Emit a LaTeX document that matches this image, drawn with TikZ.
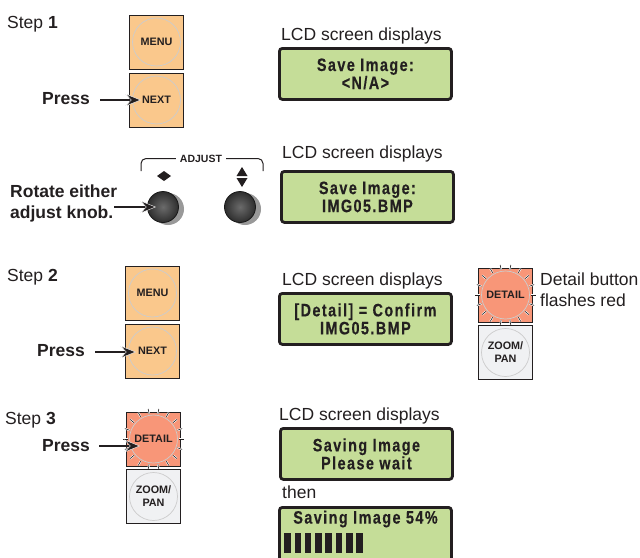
\documentclass[tikz,border=0pt]{standalone}
\usepackage{fontspec}
\setmainfont{Liberation Sans}
\newfontfamily\lcdfont[LetterSpace=8,FakeStretch=0.8,FakeBold=0.3]{Liberation Sans Bold}
\usetikzlibrary{arrows.meta,calc,positioning}
\definecolor{btnorange}{RGB}{250,200,140}
\definecolor{btnred}{RGB}{248,150,120}
\definecolor{btngray}{RGB}{240,241,243}
\definecolor{lcdgreen}{RGB}{197,221,152}
\definecolor{inkdark}{RGB}{35,31,32}
\begin{document}
\begin{tikzpicture}[x=1pt,y=-1pt]
% define styles
\tikzset{plain/.style={font=\fontsize{17.5}{20}\selectfont,text=inkdark,inner sep=0,anchor=base west},
         heavy/.style={font=\fontsize{17.5}{21}\selectfont\bfseries,text=inkdark,inner sep=0,align=left},
         lcdtitle/.style={plain,anchor=base west},
         lcdbox/.style={rectangle,rounded corners=3pt,draw=inkdark,line width=2.8pt,fill=lcdgreen,
                        anchor=north west,inner sep=0,minimum width=172pt,minimum height=51pt,
                        font=\fontsize{18}{18}\selectfont\lcdfont,text=inkdark,align=center},
         btnbox/.style={rectangle,draw=inkdark,line width=1pt,inner sep=0,minimum size=54pt},
         btnface/.style={circle,draw=black!20,line width=.7pt,inner sep=0,minimum size=48pt,align=center,
                         font=\fontsize{10.8}{13}\selectfont\bfseries,text=inkdark},
         pointer/.style={-{Stealth[length=16pt,width=13pt,inset=6pt,color=white,fill=inkdark,line width=.4pt]},
                         line width=2pt,draw=inkdark},
         bar/.style={fill=inkdark,draw=none,minimum width=6.6pt,minimum height=20pt,inner sep=0},
         ray/.style={draw=inkdark,line width=.6pt,preaction={draw=white,line width=1.8pt}},
         bracket/.style={inkdark,line width=1pt,rounded corners=5pt}
}
\useasboundingbox (0,0) rectangle (640,557);

% orange buttons
\foreach \name/\xpos/\ypos/\txt in {menua/156.5/42/MENU, nexta/156.5/100/NEXT, menub/152.5/293/MENU, nextb/152.5/351/NEXT}{
    \node[btnbox,fill=btnorange] (\name) at (\xpos,\ypos) {};
    \node[btnface,fill=btnorange] (\name-face) at (\name) {\txt};
}

% detail buttons and their flashes
\foreach \name/\xpos/\ypos in {detaila/505.5/295, detailb/153.5/439}{
    \node[btnbox,fill=btnred] (\name) at (\xpos,\ypos) {};
    \foreach \angle in {0,20,...,340}
        \draw[ray] ($(\name)+(\angle:25.5)$) -- ($(\name)+(\angle:30.5)$);
    \node[btnface,fill=btnred] (\name-face) at (\name) {DETAIL};
}
\foreach \name/\xpos/\ypos in {zooma/505.5/352.5, zoomb/153.5/496.5}{
    \node[btnbox,fill=btngray] (\name) at (\xpos,\ypos) {};
    \node[btnface,fill=btngray] (\name-face) at (\name) {ZOOM/\\PAN};
}

% knobs
\foreach \name/\xpos in {knoba/163, knobb/240}{
    \fill[black!40] (\xpos+5,209) circle (16);
    \node[circle,draw=black!90,line width=.8pt,inner sep=0,minimum size=31pt,
          inner color=black!58,outer color=black!82] (\name) at (\xpos,207) {};
}
\node[inner sep=0,font=\fontsize{10.5}{12}\selectfont\bfseries,text=inkdark] (adjust) at (201,158.5) {ADJUST};
\draw[bracket] (adjust.west) ++(-4,0) -| (141,171);
\draw[bracket] (adjust.east) ++(4,0) -| (263,171);
\fill[inkdark] (157,176) -- (164,171) -- (171,176) -- (164,181) -- cycle;
\fill[inkdark] (236.5,176) -- (242,167) -- (247.5,176) -- cycle;
\fill[inkdark] (236.5,178) -- (242,187) -- (247.5,178) -- cycle;

% step labels
\node[plain] (stepa) at (7,28) {Step \textbf{1}};
\node[plain] (stepb) at (7,281) {Step \textbf{2}};
\node[plain] (stepc) at (5,424) {Step \textbf{3}};

% actions
\node[heavy,anchor=west] (pressa) at (42,99) {Press};
\node[heavy,anchor=west] (rotate) at (10,203.5) {Rotate either\\adjust knob.};
\node[heavy,anchor=west] (pressb) at (37,351) {Press};
\node[heavy,anchor=west] (pressc) at (42,446) {Press};
\coordinate (tipa) at (141,100);
\coordinate (tipb) at (156,207);
\coordinate (tipc) at (136,352);
\coordinate (tipd) at (140,446);
\draw[pointer] ($(pressa.east)+(10,1)$) -- (tipa);
\draw[pointer] ($(rotate.east)+(-3,3.5)$) -- (tipb);
\draw[pointer] ($(pressb.east)+(10,1)$) -- (tipc);
\draw[pointer] ($(pressc.east)+(9,0)$) -- (tipd);

% lcd screens
\foreach \name/\xpos/\ypos/\ttl in {lcda/281/40/, lcdb/282/158/, lcdc/282/285/, lcdd/279/420/}
    \node[lcdtitle] (\name-title) at (\xpos,\ypos) {LCD screen displays};
\node[lcdbox] (lcda) at (278,47) {Save Image:\\\textless N/A\textgreater};
\node[lcdbox] (lcdb) at (280,170) {Save Image:\\IMG05.BMP};
\node[lcdbox] (lcdc) at (278,292) {[Detail] = Confirm\\IMG05.BMP};
\node[lcdbox] (lcdd) at (279,427) {Saving Image\\Please wait};
\node[plain] (then) at (282,498) {then};
\node[lcdbox,minimum height=60pt] (lcde) at (278,506) {};
\node[inner sep=0,font=\fontsize{18}{18}\selectfont\lcdfont,text=inkdark] (saving) at (365.5,519) {Saving Image 54\%};
\foreach \i in {0,...,7}
    \node[bar,anchor=north west] (bar\i) at (284+\i*10.3,533) {};

% side note
\node[plain,align=left,anchor=north west,font=\fontsize{17.5}{21}\selectfont] (note) at (540,273) {Detail button\\flashes red};
\end{tikzpicture}
\end{document}
